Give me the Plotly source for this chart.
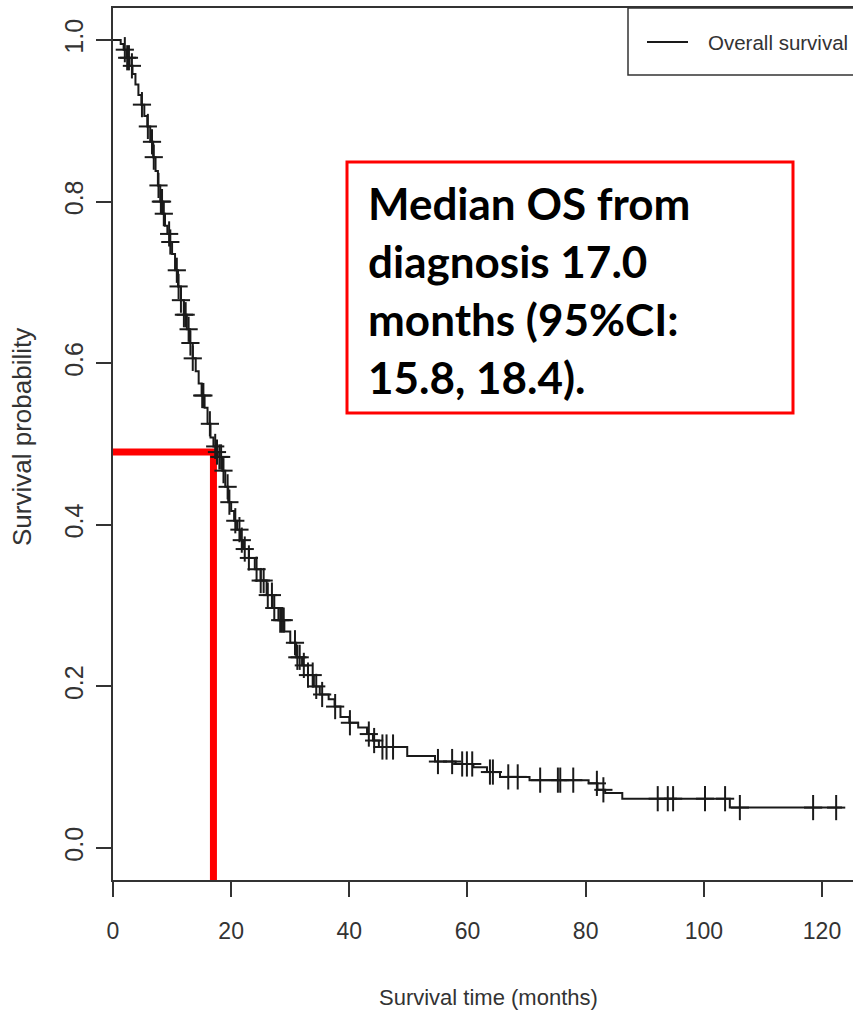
import numpy as np
import plotly.graph_objects as go

# Kaplan-Meier step function: time (months) at which survival drops, and the new value
step_time = [0, 1.3, 1.8, 2.3, 2.8, 3.3, 3.8, 4.3, 4.8, 5.3, 5.8, 6.3, 6.8, 7.2, 7.6,
             8.0, 8.4, 8.8, 9.2, 9.6, 10.0, 10.5, 11.0, 11.5, 12.0, 12.5, 13.0, 13.5,
             14.0, 14.5, 15.0, 15.5, 16.0, 16.5, 17.0, 17.5, 18.0, 18.5, 19.0, 19.5,
             20.0, 20.5, 21.0, 21.5, 22.0, 23.0, 24.0, 25.0, 26.0, 27.0, 28.0, 29.0,
             30.0, 31.0, 32.0, 33.0, 34.0, 35.0, 36.5, 37.5, 38.5, 40.0, 41.5, 43.0,
             44.0, 45.0, 49.8, 54.5, 58.0, 61.0, 63.3, 65.5, 70.5, 80.5, 82.0, 83.3,
             86.2, 104.4, 123.4]
step_surv = [1.0, 0.995, 0.988, 0.978, 0.968, 0.958, 0.945, 0.932, 0.92, 0.906, 0.893,
             0.874, 0.855, 0.838, 0.82, 0.80, 0.785, 0.77, 0.76, 0.75, 0.735, 0.715,
             0.695, 0.678, 0.66, 0.642, 0.625, 0.606, 0.59, 0.575, 0.56, 0.545, 0.525,
             0.508, 0.497, 0.49, 0.484, 0.467, 0.447, 0.428, 0.417, 0.405, 0.394, 0.381,
             0.37, 0.359, 0.345, 0.331, 0.313, 0.297, 0.282, 0.268, 0.254, 0.236, 0.226,
             0.214, 0.2, 0.19, 0.184, 0.175, 0.162, 0.155, 0.149, 0.141, 0.133, 0.125,
             0.114, 0.107, 0.104, 0.100, 0.094, 0.088, 0.084, 0.08, 0.072, 0.068, 0.061,
             0.05, 0.05]

# Censored observations (months)
censor_time = [2.0, 2.4, 2.7, 3.2, 4.9, 5.9, 6.6, 6.9, 7.7, 8.1, 8.3, 8.6, 9.5, 9.7,
               10.8, 11.1, 11.5, 12.0, 12.3, 12.8, 13.1, 13.5, 15.1, 15.3, 16.4, 17.3,
               17.6, 18.0, 18.3, 18.7, 19.4, 19.7, 20.7, 21.4, 21.8, 22.3, 23.0, 24.3,
               25.0, 25.5, 26.2, 26.9, 27.3, 28.3, 28.6, 28.9, 30.8, 31.2, 31.6, 32.3,
               33.0, 33.8, 34.4, 35.4, 37.6, 40.1, 43.3, 44.2, 45.6, 46.3, 47.4, 55.0,
               57.4, 59.1, 59.9, 60.8, 63.8, 64.3, 66.9, 68.5, 72.3, 75.3, 75.7, 77.9,
               81.9, 83.0, 92.2, 93.9, 94.8, 100.2, 103.6, 106.1, 118.5, 122.4]

median_os = 17.0
median_surv = 0.49

x_ticks = [0, 20, 40, 60, 80, 100, 120]
y_ticks = [0.0, 0.2, 0.4, 0.6, 0.8, 1.0]
y_tick_text = ["0.0", "0.2", "0.4", "0.6", "0.8", "1.0"]

note_lines = ["Median OS from", "diagnosis 17.0", "months (95%CI:", "15.8, 18.4)."]

# survival at each censoring time (right-continuous step function)
st = np.array(step_time)
ss = np.array(step_surv)
idx = np.searchsorted(st, np.array(censor_time), side="right") - 1
censor_surv = ss[idx]

W, H = 853, 1013
L, R, T, B = 113, 853, 8, 880
X_MAX = 125.25
Y_MIN, Y_MAX = -0.0396, 1.0396


def px_x(px):
    return (px - L) / (R - L)


def px_y(py):
    return (B - py) / (B - T)


AX = "#333333"
SANS = "Liberation Sans, Arial, sans-serif"

fig = go.Figure()

# median reference lines
fig.add_trace(go.Scatter(
    x=[0, median_os, median_os], y=[median_surv, median_surv, Y_MIN],
    mode="lines", line=dict(color="#ff0000", width=7), showlegend=False,
    hoverinfo="skip"))

# survival curve
fig.add_trace(go.Scatter(
    x=step_time, y=step_surv, mode="lines", line_shape="hv",
    line=dict(color="#1a1a1a", width=2), name="Overall survival",
    showlegend=False))

# censor marks: vertical and horizontal arms drawn separately
fig.add_trace(go.Scatter(
    x=censor_time, y=censor_surv, mode="markers",
    marker=dict(symbol="line-ns", size=18, line=dict(color="#1a1a1a", width=2)),
    showlegend=False, hoverinfo="skip"))
fig.add_trace(go.Scatter(
    x=censor_time, y=censor_surv, mode="markers",
    marker=dict(symbol="line-ew", size=13, line=dict(color="#1a1a1a", width=2)),
    showlegend=False, hoverinfo="skip"))

shapes = [
    # annotation frame
    dict(type="rect", xref="paper", yref="paper",
         x0=px_x(347), x1=px_x(793), y0=px_y(413), y1=px_y(162),
         line=dict(color="#ff0000", width=3)),
    # legend frame
    dict(type="rect", xref="paper", yref="paper",
         x0=px_x(628), x1=px_x(920), y0=px_y(75), y1=px_y(8),
         line=dict(color=AX, width=1.5)),
    dict(type="line", xref="paper", yref="paper",
         x0=px_x(647), x1=px_x(688), y0=px_y(42), y1=px_y(42),
         line=dict(color="#1a1a1a", width=2)),
]

annotations = [
    dict(text="Overall survival", xref="paper", yref="paper",
         x=px_x(706), y=px_y(42), xanchor="left", yanchor="middle",
         showarrow=False, font=dict(family=SANS, size=20.5, color=AX)),
    dict(text="Survival time (months)", xref="paper", yref="paper",
         x=px_x(488), y=px_y(997), xanchor="center", yanchor="middle",
         showarrow=False, font=dict(family=SANS, size=22, color=AX)),
    dict(text="Survival probability", xref="paper", yref="paper",
         x=px_x(22), y=px_y(437), xanchor="center", yanchor="middle",
         textangle=-90, showarrow=False, font=dict(family=SANS, size=26, color=AX)),
]
for i, line in enumerate(note_lines):
    annotations.append(dict(
        text="<b>" + line + "</b>", xref="paper", yref="paper",
        x=px_x(366), y=px_y(203 + 58 * i), xanchor="left", yanchor="middle",
        showarrow=False, font=dict(family="Lato, Open Sans, sans-serif", size=44,
                                   color="#000000")))

fig.update_layout(
    width=W, height=H,
    margin=dict(l=L, r=W - R, t=T, b=H - B, pad=0),
    paper_bgcolor="white", plot_bgcolor="white",
    shapes=shapes, annotations=annotations,
    showlegend=False,
    xaxis=dict(range=[0, X_MAX], tickvals=x_ticks, ticks="outside", ticklen=15,
               tickwidth=1.5, tickcolor=AX, showline=True, linecolor=AX,
               linewidth=2, mirror=True, showgrid=False, zeroline=False,
               tickfont=dict(family=SANS, size=23, color=AX),
               ticklabelstandoff=14),
    yaxis=dict(range=[Y_MIN, Y_MAX], tickvals=y_ticks, ticktext=y_tick_text,
               ticks="outside", ticklen=15, tickwidth=1.5, tickcolor=AX,
               showline=True, linecolor=AX, linewidth=1.5, showgrid=False,
               zeroline=False, tickangle=-90,
               tickfont=dict(family=SANS, size=25, color=AX),
               ticklabelstandoff=3),
)

fig.write_html("out.html")
